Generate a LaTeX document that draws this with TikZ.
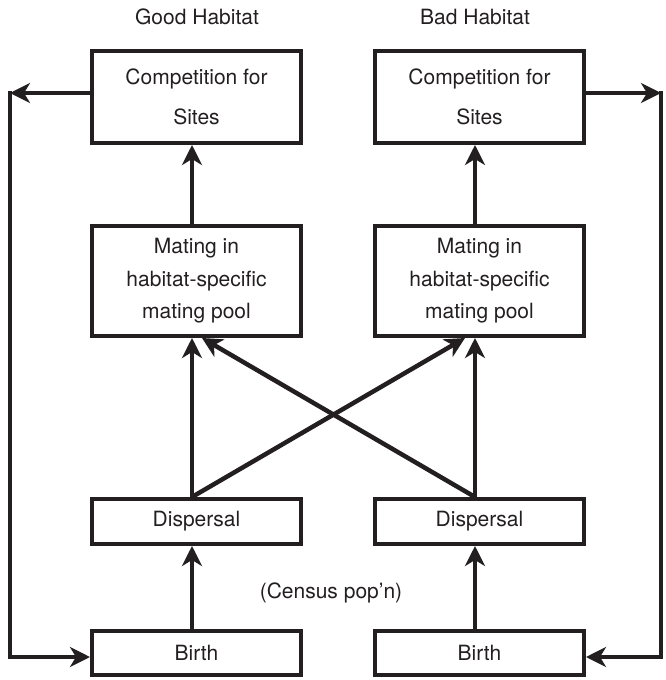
\documentclass[tikz,border=0pt]{standalone}
\usepackage{fontspec}
\setmainfont{TeX Gyre Heros}
\usetikzlibrary{arrows.meta}
\definecolor{ink}{RGB}{35,31,32}
\begin{document}
\begin{tikzpicture}[x=1pt,y=-1pt,
  every node/.style={text=ink},
  box/.style={draw=ink, line width=4pt, inner sep=0pt, align=center, minimum width=209pt},
  comp/.style={box, minimum height=92pt, font=\fontsize{21}{40}\selectfont},
  mate/.style={box, minimum height=110pt, font=\fontsize{21}{32.5}\selectfont},
  small/.style={box, minimum height=45pt, font=\fontsize{21}{25}\selectfont},
  lbl/.style={font=\fontsize{21}{25}\selectfont, inner sep=0pt},
  arr/.style={draw=ink, line width=4.5pt, -{Stealth[length=20pt,width=20pt,inset=6pt]}},
  ln/.style={draw=ink, line width=4.5pt}]
\useasboundingbox (0,0) rectangle (665,680);

\node[lbl] (gh) at (197,17) {Good Habitat};
\node[lbl] (bh) at (475,17) {Bad Habitat};

\node[comp] (cl) at (196.5,97) {Competition for\\Sites};
\node[comp] (cr) at (479.5,97) {Competition for\\Sites};

\node[mate] (ml) at (196.5,281) {Mating in\\habitat-specific\\mating pool};
\node[mate] (mr) at (479.5,281) {Mating in\\habitat-specific\\mating pool};

\node[small] (dl) at (196.5,521.5) {Dispersal};
\node[small] (dr) at (479.5,521.5) {Dispersal};

\node[small, minimum height=44pt] (bl) at (196.5,653) {Birth};
\node[small, minimum height=44pt] (br) at (479.5,653) {Birth};

\node[lbl] (census) at (331,593) {(Census pop’n)};

% vertical arrows
\draw[arr] ([xshift=-4.5pt]ml.north) -- ([xshift=-4.5pt]cl.south);
\draw[arr] ([xshift=-4.5pt]mr.north) -- ([xshift=-4.5pt]cr.south);
\draw[arr] ([xshift=-4.5pt]dl.north) -- ([xshift=-4.5pt]ml.south);
\draw[arr] ([xshift=-4.5pt]dr.north) -- ([xshift=-4.5pt]mr.south);
\draw[arr] ([xshift=-4.5pt]bl.north) -- ([xshift=-4.5pt]dl.south);
\draw[arr] ([xshift=-4.5pt]br.north) -- ([xshift=-4.5pt]dr.south);

% crossing arrows
\draw[arr] ([xshift=-4.5pt]dl.north) -- ([xshift=-14.5pt]mr.south);
\draw[arr] ([xshift=-4.5pt]dr.north) -- ([xshift=5.5pt]ml.south);

% feedback loops
\coordinate (tl) at (10,93);
\coordinate (tr) at (661,93);
\draw[arr] (cl.west |- tl) -- (tl);
\draw[arr] (cr.east |- tr) -- (tr);
\draw[arr] ([yshift=2pt]tl) |- ([yshift=-4pt]bl.west);
\draw[arr] ([yshift=2pt]tr) |- ([yshift=-4pt]br.east);
\end{tikzpicture}
\end{document}
